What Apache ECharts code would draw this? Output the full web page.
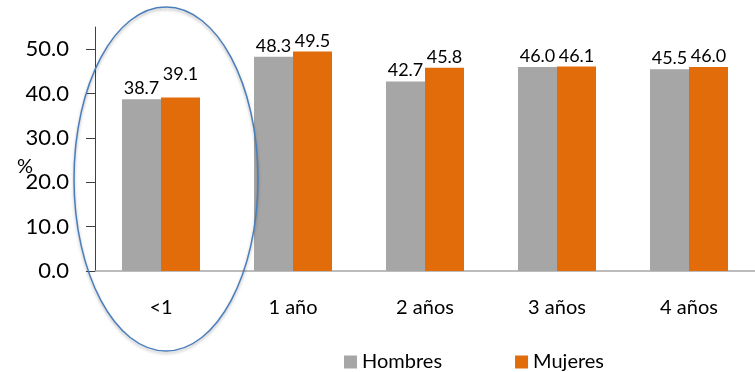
<!DOCTYPE html>
<html lang="es">
<head>
    <meta charset="UTF-8">
    <title>Hombres / Mujeres</title>
    <script src="https://cdn.jsdelivr.net/npm/echarts@6/dist/echarts.min.js"></script>
    <style>
        html, body { margin: 0; padding: 0; background: #fff; }
        #chart { width: 755px; height: 372px; }
    </style>
</head>
<body>
    <div id="chart"></div>
    <script>
        // datos
        const categories = ['<1', '1 año', '2 años', '3 años', '4 años'];
        const hombres = [38.7, 48.3, 42.7, 46.0, 45.5];
        const mujeres = [39.1, 49.5, 45.8, 46.1, 46.0];
        const yTicks = [0, 10, 20, 30, 40, 50];

        const font = 'Lato, "Open Sans", sans-serif';

        let myChart = echarts.init(document.querySelector('#chart'), null, { renderer: 'canvas' });

        let barLabel = {
            show: true,
            position: 'top',
            distance: 2,
            fontSize: 18,
            fontFamily: font,
            color: '#000',
            formatter: p => Number(p.value).toFixed(1)
        };

        let option = {
            animation: false,
            textStyle: { fontFamily: font },
            grid: {
                left: 95,
                top: 27,
                width: 669,
                height: 244
            },
            legend: {
                left: 339,
                top: 347,
                itemWidth: 13,
                itemHeight: 13,
                itemGap: 73,
                icon: 'rect',
                textStyle: { fontSize: 20, fontFamily: font, color: '#000' },
                data: ['Hombres', 'Mujeres']
            },
            xAxis: {
                type: 'category',
                data: categories,
                axisLine: { lineStyle: { color: '#a6a6a6', width: 1.5 } },
                axisTick: { show: false },
                axisLabel: { fontSize: 20, margin: 27, color: '#000', fontFamily: font }
            },
            yAxis: {
                type: 'value',
                min: 0,
                max: 55,
                splitLine: { show: false },
                axisLine: { show: true, lineStyle: { color: '#404040' } },
                axisTick: { show: true, length: 9, customValues: yTicks, lineStyle: { color: '#404040' } },
                axisLabel: {
                    customValues: yTicks,
                    fontSize: 22,
                    margin: 26,
                    color: '#000',
                    fontFamily: font,
                    formatter: v => v.toFixed(1)
                }
            },
            series: [
                {
                    name: 'Hombres',
                    type: 'bar',
                    barWidth: 39,
                    barGap: '0%',
                    itemStyle: { color: '#a6a6a6' },
                    label: barLabel,
                    data: hombres
                },
                {
                    name: 'Mujeres',
                    type: 'bar',
                    barWidth: 39,
                    barGap: '0%',
                    itemStyle: { color: '#e36c0a' },
                    // la etiqueta de "39.1" en Excel queda desplazada hacia arriba
                    label: Object.assign({}, barLabel, {
                        distance: 4,
                        lineHeight: 13,
                        formatter: p => Number(p.value).toFixed(1) + (p.dataIndex === 0 ? '\n ' : '')
                    }),
                    data: mujeres
                }
            ],
            graphic: [
                {
                    type: 'text',
                    left: 17,
                    top: 157,
                    style: { text: '%', fontSize: 20, fontFamily: font, fill: '#000' }
                },
                {
                    type: 'ellipse',
                    shape: { cx: 166, cy: 179, rx: 92, ry: 172 },
                    style: {
                        fill: 'none',
                        stroke: '#4a7ebb',
                        lineWidth: 1.5,
                        shadowBlur: 3,
                        shadowOffsetY: 2,
                        shadowColor: 'rgba(0,0,0,0.3)'
                    },
                    z: 100
                }
            ]
        };

        myChart.setOption(option);
    </script>
</body>
</html>
